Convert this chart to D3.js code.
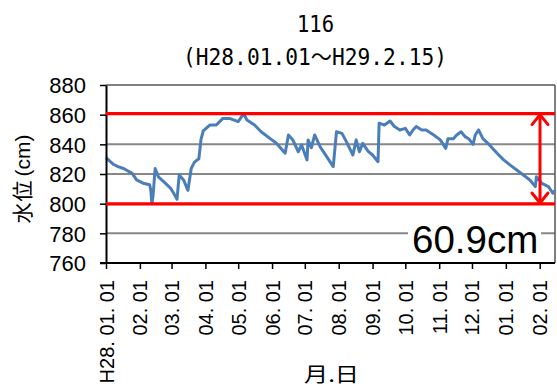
<!DOCTYPE html>
<html>
<head>
<meta charset="utf-8">
<script src="https://cdn.jsdelivr.net/npm/d3@7"></script>
<style>
  html, body { margin: 0; padding: 0; background: #fff; }
  svg { display: block; }
</style>
</head>
<body>
<svg id="chart" width="557" height="388"></svg>
<script>
// ---- data ----
const dates = [
  "2016-01-01","2016-01-08","2016-01-12","2016-01-17","2016-01-25","2016-01-29",
  "2016-02-04","2016-02-10","2016-02-11","2016-02-12","2016-02-13","2016-02-15",
  "2016-02-18","2016-02-24","2016-02-29","2016-03-03","2016-03-06","2016-03-08",
  "2016-03-12","2016-03-16","2016-03-19","2016-03-22","2016-03-26","2016-03-28",
  "2016-03-30","2016-04-05","2016-04-11","2016-04-17","2016-04-23","2016-05-01",
  "2016-05-06","2016-05-09","2016-05-16","2016-05-22","2016-05-30","2016-06-05",
  "2016-06-13","2016-06-16","2016-06-20","2016-06-25","2016-06-28","2016-07-03",
  "2016-07-04","2016-07-07","2016-07-10","2016-07-15","2016-07-21","2016-07-27",
  "2016-07-30","2016-08-04","2016-08-08","2016-08-14","2016-08-17","2016-08-20",
  "2016-08-23","2016-08-28","2016-09-01","2016-09-06","2016-09-07","2016-09-12",
  "2016-09-17","2016-09-21","2016-09-26","2016-10-01","2016-10-05","2016-10-08",
  "2016-10-11","2016-10-16","2016-10-20","2016-10-27","2016-11-02","2016-11-07",
  "2016-11-09","2016-11-14","2016-11-17","2016-11-21","2016-11-25","2016-11-28",
  "2016-12-02","2016-12-04","2016-12-07","2016-12-11","2016-12-17","2016-12-24",
  "2016-12-30","2017-01-05","2017-01-11","2017-01-17","2017-01-23","2017-01-28",
  "2017-01-29","2017-02-03","2017-02-09","2017-02-13","2017-02-15"
];
const levels = [
  831.0,826.4,825.0,823.7,820.4,816.0,
  813.8,812.7,809.0,799.8,805.0,823.7,
  818.0,814.0,810.5,807.0,803.0,819.3,
  816.0,809.0,823.7,828.0,830.3,843.5,
  849.0,853.0,853.0,857.5,857.5,855.3,
  860.7,856.4,853.0,848.5,844.0,840.7,
  834.0,846.3,843.0,835.0,839.7,829.5,
  843.0,837.7,846.3,838.4,831.7,825.0,
  848.5,847.4,841.8,832.8,843.0,835.0,
  840.7,835.3,832.8,828.3,854.2,853.0,
  855.7,852.0,849.7,850.8,846.3,849.7,
  852.0,849.7,849.7,846.3,843.0,837.3,
  843.8,843.8,846.3,848.5,845.0,843.8,
  840.0,846.3,849.7,843.8,839.6,834.0,
  829.5,826.0,822.7,819.3,816.0,811.5,
  818.2,813.7,811.5,807.0,809.0
];
const tickDates = [
  "2016-01-01","2016-02-01","2016-03-01","2016-04-01","2016-05-01","2016-06-01",
  "2016-07-01","2016-08-01","2016-09-01","2016-10-01","2016-11-01","2016-12-01",
  "2017-01-01","2017-02-01"
];
const tickLabels = [
  "H28. 01. 01","02. 01","03. 01","04. 01","05. 01","06. 01","07. 01",
  "08. 01","09. 01","10. 01","11. 01","12. 01","01. 01","02. 01"
];
const yTicks = [760, 780, 800, 820, 840, 860, 880];
const gridValues = [780, 820, 840];
const rangeLines = [860.7, 799.8];
const rangeLabel = "60.9cm";
const titleText = "116";
const subtitleText = "(H28.01.01～H29.2.15)";
const xStart = "2016-01-01", xEnd = "2017-02-15";

// ---- drawing ----
const parse = d3.timeParse("%Y-%m-%d");
const svg = d3.select("#chart");
const L = 106, R = 555, T = 85, B = 263;

const x = d3.scaleTime().domain([parse(xStart), parse(xEnd)]).range([L, R]);
const y = d3.scaleLinear().domain([760, 880]).range([B, T]);

const data = dates.map((d, i) => ({ date: parse(d), v: levels[i] }));

// gridlines
svg.append("g").selectAll("line").data(gridValues).join("line")
  .attr("x1", L).attr("x2", R)
  .attr("y1", d => y(d)).attr("y2", d => y(d))
  .attr("stroke", "#878787").attr("stroke-width", 2);

// plot border (top and right)
svg.append("line").attr("x1", L).attr("x2", R).attr("y1", T).attr("y2", T)
  .attr("stroke", "#555").attr("stroke-width", 1.5);
svg.append("line").attr("x1", R).attr("x2", R).attr("y1", T).attr("y2", B)
  .attr("stroke", "#555").attr("stroke-width", 1.5);

// data line
const line = d3.line().x(d => x(d.date)).y(d => y(d.v));
svg.append("path").datum(data)
  .attr("d", line)
  .attr("fill", "none")
  .attr("stroke", "#4a7ebb")
  .attr("stroke-width", 3)
  .attr("stroke-linejoin", "round");

// Y axis
const yAxis = svg.append("g").attr("transform", `translate(${L},0)`)
  .call(d3.axisLeft(y).tickValues(yTicks).tickSize(6).tickPadding(14).tickSizeOuter(0));
yAxis.select(".domain").attr("stroke", "#000").attr("stroke-width", 2);
yAxis.selectAll(".tick line").attr("stroke", "#000").attr("stroke-width", 1.5);
yAxis.selectAll(".tick text")
  .attr("font-family", "'Liberation Sans', Arial, sans-serif")
  .attr("font-size", 22).attr("fill", "#000").attr("dy", "0.36em");

// X axis
const xAxis = svg.append("g").attr("transform", `translate(0,${B})`)
  .call(d3.axisBottom(x).tickValues(tickDates.map(parse)).tickSize(6).tickSizeOuter(0)
    .tickFormat((d, i) => tickLabels[i]));
xAxis.select(".domain").attr("stroke", "#000").attr("stroke-width", 2)
  .attr("d", `M${L - 6},0H${R}`);
xAxis.selectAll(".tick line").attr("stroke", "#000").attr("stroke-width", 1.5);
xAxis.selectAll(".tick text")
  .attr("font-family", "'Liberation Sans', Arial, sans-serif")
  .attr("font-size", 20).attr("fill", "#000")
  .attr("x", 0).attr("y", 0).attr("dy", 0)
  .attr("text-anchor", "end")
  .attr("transform", "translate(7,17) rotate(-90)");

// red range lines
svg.append("g").selectAll("line").data(rangeLines).join("line")
  .attr("x1", L).attr("x2", R)
  .attr("y1", d => y(d)).attr("y2", d => y(d))
  .attr("stroke", "#ff0000").attr("stroke-width", 3.3);

// double arrow
const ax = 540;
const yTop = y(rangeLines[0]) + 1, yBot = y(rangeLines[1]) - 1;
const arrow = svg.append("g").attr("stroke", "#ff0000").attr("stroke-width", 3)
  .attr("fill", "none").attr("stroke-linecap", "round").attr("stroke-linejoin", "round");
arrow.append("line").attr("x1", ax).attr("x2", ax).attr("y1", yTop).attr("y2", yBot);
arrow.append("path").attr("d", `M${ax - 8},${yTop + 10}L${ax},${yTop}L${ax + 8},${yTop + 10}`);
arrow.append("path").attr("d", `M${ax - 8},${yBot - 10}L${ax},${yBot}L${ax + 8},${yBot - 10}`);

// range label with white box
svg.append("rect").attr("x", 408).attr("y", 219).attr("width", 133).attr("height", 40)
  .attr("fill", "#fff");
svg.append("text").attr("x", 412).attr("y", 253)
  .attr("font-family", "'Liberation Sans', Arial, sans-serif")
  .attr("font-size", 38.5).attr("fill", "#000")
  .text(rangeLabel);

// titles
svg.append("text").attr("x", 297).attr("y", 32)
  .attr("font-family", "'DejaVu Sans Mono', monospace").attr("font-size", 23)
  .attr("textLength", 37).attr("lengthAdjust", "spacingAndGlyphs")
  .attr("fill", "#000").text(titleText);
svg.append("text").attr("x", 183).attr("y", 65)
  .attr("font-family", "'DejaVu Sans Mono', 'Noto Sans CJK JP', monospace").attr("font-size", 23)
  .attr("textLength", 264).attr("lengthAdjust", "spacingAndGlyphs")
  .attr("fill", "#000").text(subtitleText);

// Y axis title
const yt = svg.append("text")
  .attr("transform", "translate(30,179) rotate(-90)")
  .attr("text-anchor", "middle").attr("fill", "#000");
yt.append("tspan").attr("font-family", "'Noto Sans CJK JP', sans-serif").attr("font-size", 21)
  .attr("letter-spacing", 1).text("水位");
yt.append("tspan").attr("font-family", "'Liberation Sans', Arial, sans-serif").attr("font-size", 21)
  .attr("dx", 3).text("(cm)");

// X axis title
svg.append("text").attr("x", 304).attr("y", 382)
  .attr("font-family", "'Noto Sans CJK JP', sans-serif").attr("font-size", 20)
  .attr("textLength", 55).attr("lengthAdjust", "spacingAndGlyphs")
  .attr("fill", "#000").text("月.日");
</script>
</body>
</html>
